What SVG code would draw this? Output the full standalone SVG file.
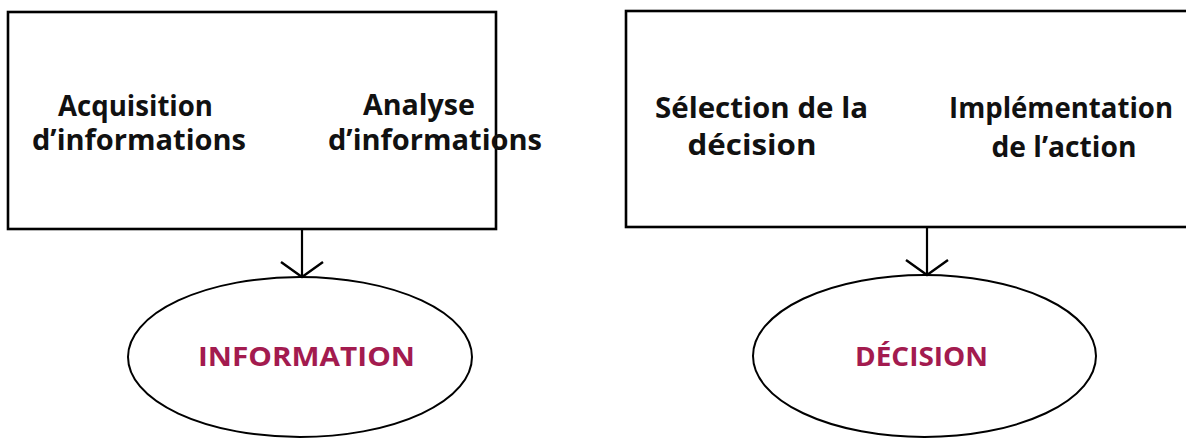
<svg xmlns="http://www.w3.org/2000/svg" width="1186" height="439" viewBox="0 0 1186 439">
  <style>
    .box { fill: #ffffff; stroke: #000000; stroke-width: 2.6; }
    .oval { fill: #ffffff; stroke: #000000; stroke-width: 2; }
    .t { font-family: "Open Sans", "Liberation Sans", Arial, sans-serif; font-weight: bold; font-size: 28px; fill: #111111; text-anchor: middle; }
    .r { font-family: "Open Sans", "Liberation Sans", Arial, sans-serif; font-weight: bold; font-size: 27px; fill: #a31b4f; text-anchor: middle; }
    .conn { stroke: #000000; stroke-width: 2.2; fill: none; }
  </style>
  <defs>
    <marker id="vhead" viewBox="-2 -23 20 46" markerWidth="20" markerHeight="46" refX="15" refY="0" orient="auto" markerUnits="userSpaceOnUse">
      <path d="M0,-21 L15,0 L0,21" fill="none" stroke="#000000" stroke-width="2.4"/>
    </marker>
  </defs>
  <rect width="1186" height="439" fill="#ffffff"/>

  <g id="box-information">
    <rect class="box" x="8" y="12" width="488" height="217"/>
    <text class="t" x="135.5" y="116" textLength="155" lengthAdjust="spacingAndGlyphs">Acquisition</text>
    <text class="t" x="139" y="150" textLength="214" lengthAdjust="spacingAndGlyphs">d’informations</text>
    <text class="t" x="419" y="115" textLength="112" lengthAdjust="spacingAndGlyphs">Analyse</text>
    <text class="t" x="435" y="150" textLength="214" lengthAdjust="spacingAndGlyphs">d’informations</text>
  </g>

  <g id="box-decision">
    <rect class="box" x="626" y="11" width="570" height="216"/>
    <text class="t" x="761.5" y="118" textLength="213" lengthAdjust="spacingAndGlyphs">Sélection de la</text>
    <text class="t" x="752" y="155" textLength="129" lengthAdjust="spacingAndGlyphs">décision</text>
    <text class="t" x="1061" y="118" textLength="224" lengthAdjust="spacingAndGlyphs">Implémentation</text>
    <text class="t" x="1064" y="157" textLength="145" lengthAdjust="spacingAndGlyphs">de l’action</text>
  </g>

  <g id="node-information">
    <ellipse class="oval" cx="300" cy="357" rx="172" ry="80"/>
    <text class="r" x="306.5" y="366" textLength="217" lengthAdjust="spacingAndGlyphs">INFORMATION</text>
  </g>

  <g id="node-decision">
    <ellipse class="oval" cx="924.5" cy="356" rx="171.5" ry="81"/>
    <text class="r" x="921.5" y="366" textLength="133" lengthAdjust="spacingAndGlyphs">DÉCISION</text>
  </g>

  <g id="connectors">
    <line class="conn" x1="302" y1="229" x2="302" y2="277" marker-end="url(#vhead)"/>
    <line class="conn" x1="927" y1="227" x2="927" y2="275" marker-end="url(#vhead)"/>
  </g>
</svg>
